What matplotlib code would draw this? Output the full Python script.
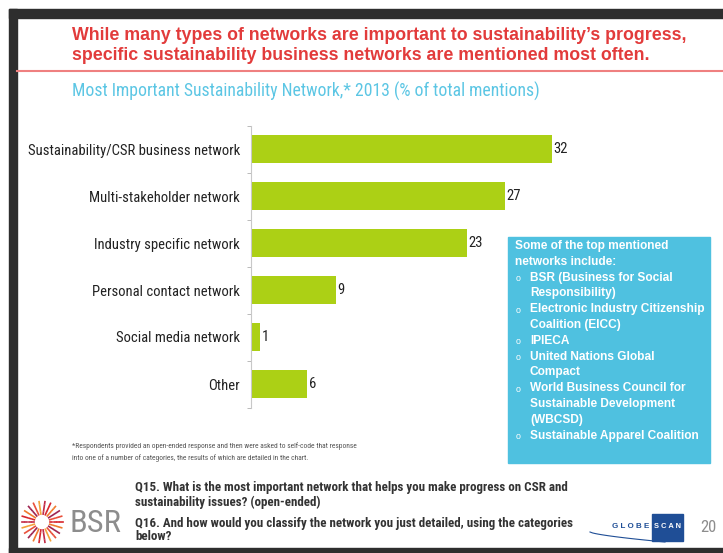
import numpy as np
import matplotlib.pyplot as plt
from matplotlib import font_manager
from matplotlib.patches import Rectangle
from matplotlib.lines import Line2D

# chart data
categories = ['Sustainability/CSR business network', 'Multi-stakeholder network',
              'Industry specific network', 'Personal contact network',
              'Social media network', 'Other']
values = [32, 27, 23, 9, 1, 6]

title_lines = ['While many types of networks are important to sustainability\u2019s progress,',
               'specific sustainability business networks are mentioned most often.']
subtitle = 'Most Important Sustainability Network,* 2013 (% of total mentions)'
box_heading = ['Some of the top mentioned', 'networks include:']
box_items = [['BSR (Business for Social', 'Responsibility)'],
             ['Electronic Industry Citizenship', 'Coalition (EICC)'],
             ['IPIECA'],
             ['United Nations Global', 'Compact'],
             ['World Business Council for', 'Sustainable Development', '(WBCSD)'],
             ['Sustainable Apparel Coalition']]
footnote = ['*Respondents provided an open-ended response and then were asked to self-code that response',
            'into one of a number of categories, the results of which are detailed in the chart.']
questions = [['Q15. What is the most important network that helps you make progress on CSR and',
              'sustainability issues? (open-ended)'],
             ['Q16. And how would you classify the network you just detailed, using the categories',
              'below?']]
page_no = '20'

W, H = 723, 553
fig = plt.figure(figsize=(W / 100, H / 100), dpi=100)
renderer = fig.canvas.get_renderer()

# pick a condensed face close to Arial Narrow
names = {f.name for f in font_manager.fontManager.ttflist}
narrow = 'Liberation Sans'
for cand in ['Liberation Sans Narrow', 'Arial Narrow', 'Roboto Condensed', 'PT Sans Narrow', 'Archivo Narrow']:
    if cand in names:
        narrow = cand
        break
sans = 'Liberation Sans'


def fx(x):
    return x / W


def fy(y):
    return 1 - y / H


def fit_size(s, width, size=10, **kw):
    t = fig.text(0, 0, s, fontsize=size, **kw)
    w = t.get_window_extent(renderer).width
    t.remove()
    return size * width / w


def txt(x, y, s, **kw):
    return fig.text(fx(x), fy(y), s, **kw)


# slide frame
dark = '#2e2e2e'
fig.patches.append(Rectangle((fx(9), fy(18)), 1, 9 / H, transform=fig.transFigure, color=dark, zorder=0))
fig.patches.append(Rectangle((fx(9), 0), 8 / W, fy(9), transform=fig.transFigure, color=dark, zorder=0))
fig.patches.append(Rectangle((fx(9), 0), 1, 5 / H, transform=fig.transFigure, color=dark, zorder=0))

# title
red = '#e23b3b'
ts = fit_size(title_lines[0], 614, fontweight='bold', family=sans)
for line, y in zip(title_lines, [35, 56]):
    txt(72, y, line, color=red, fontweight='bold', family=sans, fontsize=ts, va='center')
fig.lines.append(Line2D([fx(17), 1], [fy(71), fy(71)], transform=fig.transFigure, color='#ef8080', lw=1.5))

txt(72, 91, subtitle, color='#5cc6e4', family=narrow, va='center',
    fontsize=fit_size(subtitle, 465, family=narrow))

# bar chart
ax = fig.add_axes([fx(251), fy(407.5), 376 / W, 282 / H])
pos = np.arange(len(categories))
ax.barh(pos, values, height=0.6, color='#acd015', edgecolor='none')
ls = fit_size(categories[0], 210, family=narrow)
for i, v in enumerate(values):
    ax.text(v + 0.15, i, str(v), va='center', ha='left', fontsize=ls, family=narrow, color='#222222')
ax.set_xlim(0, 40)
ax.set_ylim(len(categories) - 0.5, -0.5)
ax.set_yticks(pos)
ax.set_yticklabels(categories, family=narrow, fontsize=ls, color='#222222')
ax.set_yticks(np.arange(-0.5, len(categories), 1), minor=True)
ax.tick_params(axis='y', which='major', length=0, pad=8)
ax.tick_params(axis='y', which='minor', length=3, color='#b0b0b0')
ax.set_xticks([])
for s in ['top', 'right', 'bottom']:
    ax.spines[s].set_visible(False)
ax.spines['left'].set_color('#c8c8c8')
ax.patch.set_alpha(0)

# info box
fig.patches.append(Rectangle((fx(508), fy(463)), 202 / W, 226 / H, transform=fig.transFigure,
                             color='#4fc1e0', zorder=1))
bs = fit_size(box_heading[0], 153, fontweight='bold', family=sans)
y = 246
for line in box_heading:
    txt(515, y, line, color='white', fontweight='bold', family=sans, fontsize=bs, va='center')
    y += 15.8
for item in box_items:
    txt(516, y + 1, 'o', color='white', family=sans, fontsize=bs * 0.75, va='center')
    for line in item:
        txt(530, y, line, color='white', fontweight='bold', family=sans, fontsize=bs, va='center')
        y += 15.8

# footnote
fs = fit_size(footnote[0], 283, family=narrow)
for line, y in zip(footnote, [446, 458]):
    txt(72, y, line, color='#555555', family=narrow, fontsize=fs, va='center')

# questions
qs = fit_size(questions[0][0], 432, fontweight='bold', family=narrow)
qy = [488, 502, 523, 537]
k = 0
for q in questions:
    for line in q:
        txt(135, qy[k], line, color='#333333', fontweight='bold', family=narrow, fontsize=qs, va='center')
        k += 1

# BSR logo
cx, cy = 42, 522
rays = 22
cols = ['#d7262d', '#f07a2c', '#9e2450', '#e94f3a', '#f3a23a', '#c22a45']
for j in range(rays):
    a = 2 * np.pi * j / rays
    for r0 in [8, 11.5, 15, 18.5]:
        fig.lines.append(Line2D([fx(cx + r0 * np.cos(a)), fx(cx + (r0 + 2) * np.cos(a))],
                                [fy(cy + r0 * np.sin(a)), fy(cy + (r0 + 2) * np.sin(a))],
                                transform=fig.transFigure, color=cols[j % len(cols)], lw=1.2))
txt(69, 523, 'BSR', color='#8d8d8d', family=narrow, va='center',
    fontsize=fit_size('BSR', 52, family=narrow))

# GlobeScan logo
gl = 'G L O B E'
txt(612, 527, gl, color='#1f4e96', fontweight='bold', family=sans, va='center',
    fontsize=fit_size(gl, 37, fontweight='bold', family=sans))
fig.patches.append(Rectangle((fx(652), fy(541)), 31 / W, 27 / H, transform=fig.transFigure,
                             color='#1f4e96', zorder=1))
sc = 'S C A N'
txt(667.5, 527, sc, color='white', fontweight='bold', family=sans, va='center', ha='center',
    fontsize=fit_size(sc, 27, fontweight='bold', family=sans))
sx = np.linspace(590, 665, 30)
sy = 532 + 10 * ((sx - 590) / 75) ** 0.7
fig.lines.append(Line2D(fx(sx), fy(sy), transform=fig.transFigure, color='#1f4e96', lw=0.8, zorder=0))
txt(700, 527, page_no, color='#8d8d8d', family=narrow, fontsize=12, va='center')

fig.savefig('out.png', dpi=100)
